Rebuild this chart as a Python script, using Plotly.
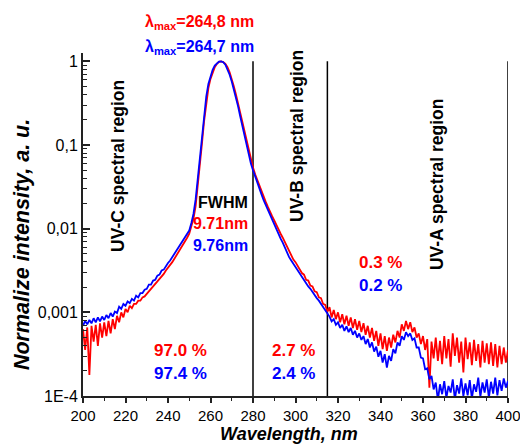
import plotly.graph_objects as go

# ---------------- data ----------------
wavelength = list(range(200, 401))  # nm, 1 nm steps

red_intensity = [
    6.3e-4, 3.55e-4, 6.6e-4, 1.78e-4, 6.9e-4, 4.47e-4, 7.1e-4, 3.98e-4, 7.4e-4, 5.0e-4,   # 200-209
    7.6e-4, 5.2e-4, 7.9e-4, 5.6e-4, 8.3e-4, 6.3e-4, 9.1e-4, 7.6e-4, 1.00e-3, 8.7e-4,     # 210-219
    1.10e-3, 1.00e-3, 1.20e-3, 1.12e-3, 1.26e-3, 1.26e-3, 1.38e-3, 1.38e-3, 1.51e-3, 1.55e-3,  # 220-229
    1.66e-3, 1.78e-3, 1.86e-3, 2.04e-3, 2.14e-3, 2.34e-3, 2.45e-3, 2.69e-3, 2.88e-3, 3.16e-3,  # 230-239
    3.39e-3, 3.63e-3, 3.98e-3, 4.37e-3, 4.79e-3, 5.2e-3, 5.8e-3, 6.3e-3, 7.1e-3, 7.8e-3,   # 240-249
    8.7e-3, 1.05e-2, 1.32e-2, 1.86e-2, 3.16e-2, 5.6e-2, 0.105, 0.195, 0.324, 0.479,        # 250-259
    0.617, 0.741, 0.851, 0.933, 0.986, 1.0, 0.982, 0.933, 0.851, 0.741,                    # 260-269
    0.617, 0.501, 0.398, 0.309, 0.240, 0.182, 0.138, 0.107, 8.3e-2, 6.6e-2,                # 270-279
    5.4e-2, 4.47e-2, 3.80e-2, 3.24e-2, 2.75e-2, 2.40e-2, 2.09e-2, 1.82e-2, 1.58e-2, 1.41e-2,  # 280-289
    1.26e-2, 1.10e-2, 9.8e-3, 8.7e-3, 7.8e-3, 6.9e-3, 6.0e-3, 5.2e-3, 4.79e-3, 4.27e-3,   # 290-299
    3.98e-3, 3.55e-3, 3.31e-3, 2.95e-3, 2.82e-3, 2.45e-3, 2.40e-3, 2.09e-3, 2.04e-3, 1.78e-3,  # 300-309
    1.74e-3, 1.51e-3, 1.48e-3, 1.26e-3, 1.23e-3, 1.02e-3, 1.15e-3, 8.7e-4, 1.07e-3, 8.3e-4,   # 310-319
    1.00e-3, 7.6e-4, 9.5e-4, 7.2e-4, 9.1e-4, 6.9e-4, 8.7e-4, 6.5e-4, 8.3e-4, 6.2e-4,     # 320-329
    7.9e-4, 5.8e-4, 7.4e-4, 5.4e-4, 6.9e-4, 5.0e-4, 6.5e-4, 4.57e-4, 6.0e-4, 3.98e-4,    # 330-339
    5.6e-4, 3.63e-4, 5.2e-4, 3.47e-4, 5.0e-4, 3.80e-4, 5.4e-4, 4.37e-4, 6.0e-4, 5.0e-4,   # 340-349
    7.2e-4, 6.0e-4, 7.9e-4, 6.3e-4, 7.6e-4, 5.8e-4, 6.6e-4, 5.0e-4, 5.6e-4, 4.17e-4,     # 350-359
    5.2e-4, 3.55e-4, 4.79e-4, 1.26e-4, 4.47e-4, 2.82e-4, 5.0e-4, 2.63e-4, 4.57e-4, 2.40e-4,  # 360-369
    5.2e-4, 2.82e-4, 4.79e-4, 2.24e-4, 5.6e-4, 3.02e-4, 5.0e-4, 2.51e-4, 4.47e-4, 1.91e-4,  # 370-379
    5.0e-4, 2.75e-4, 4.37e-4, 2.34e-4, 4.68e-4, 2.63e-4, 4.17e-4, 2.19e-4, 4.57e-4, 2.51e-4,  # 380-389
    4.27e-4, 2.40e-4, 4.37e-4, 2.29e-4, 4.17e-4, 2.19e-4, 3.98e-4, 2.40e-4, 3.80e-4, 2.51e-4,  # 390-399
    3.55e-4,                                                                                # 400
]

blue_intensity = [
    6.9e-4, 7.9e-4, 7.2e-4, 8.1e-4, 7.4e-4, 8.5e-4, 7.6e-4, 8.7e-4, 7.8e-4, 8.9e-4,      # 200-209
    8.1e-4, 9.3e-4, 8.5e-4, 9.8e-4, 8.9e-4, 1.02e-3, 9.8e-4, 1.17e-3, 1.10e-3, 1.26e-3,   # 210-219
    1.20e-3, 1.35e-3, 1.29e-3, 1.45e-3, 1.38e-3, 1.58e-3, 1.51e-3, 1.70e-3, 1.70e-3, 1.86e-3,  # 220-229
    1.91e-3, 2.14e-3, 2.14e-3, 2.40e-3, 2.45e-3, 2.75e-3, 2.82e-3, 3.16e-3, 3.24e-3, 3.63e-3,  # 230-239
    3.89e-3, 4.17e-3, 4.57e-3, 5.0e-3, 5.4e-3, 5.9e-3, 6.5e-3, 7.1e-3, 7.8e-3, 8.5e-3,    # 240-249
    9.5e-3, 1.17e-2, 1.51e-2, 2.24e-2, 3.98e-2, 7.1e-2, 0.132, 0.240, 0.380, 0.537,        # 250-259
    0.676, 0.794, 0.891, 0.955, 0.993, 1.0, 0.977, 0.912, 0.813, 0.692,                    # 260-269
    0.575, 0.468, 0.372, 0.288, 0.219, 0.166, 0.126, 9.8e-2, 7.6e-2, 6.0e-2,               # 270-279
    5.0e-2, 4.17e-2, 3.55e-2, 3.02e-2, 2.57e-2, 2.19e-2, 1.91e-2, 1.66e-2, 1.45e-2, 1.26e-2,  # 280-289
    1.12e-2, 9.8e-3, 8.7e-3, 7.6e-3, 6.8e-3, 5.9e-3, 5.2e-3, 4.57e-3, 4.17e-3, 3.80e-3,   # 290-299
    3.47e-3, 3.16e-3, 2.88e-3, 2.63e-3, 2.40e-3, 2.24e-3, 2.04e-3, 1.91e-3, 1.74e-3, 1.62e-3,  # 300-309
    1.48e-3, 1.38e-3, 1.26e-3, 1.17e-3, 1.07e-3, 9.5e-4, 8.9e-4, 7.8e-4, 8.3e-4, 7.1e-4,   # 310-319
    7.6e-4, 6.5e-4, 7.1e-4, 6.0e-4, 6.8e-4, 5.8e-4, 6.5e-4, 5.4e-4, 6.0e-4, 5.0e-4,      # 320-329
    5.6e-4, 4.68e-4, 5.2e-4, 4.17e-4, 4.79e-4, 3.80e-4, 4.37e-4, 3.39e-4, 3.89e-4, 2.95e-4,  # 330-339
    3.47e-4, 2.51e-4, 3.16e-4, 2.19e-4, 3.02e-4, 2.63e-4, 3.63e-4, 3.24e-4, 4.37e-4, 3.98e-4,  # 340-349
    5.2e-4, 4.68e-4, 5.8e-4, 5.2e-4, 5.6e-4, 4.68e-4, 4.90e-4, 3.80e-4, 3.80e-4, 2.88e-4,  # 350-359
    2.82e-4, 2.09e-4, 2.14e-4, 1.58e-4, 1.74e-4, 1.20e-4, 1.45e-4, 8.9e-5, 1.38e-4, 1.05e-4,  # 360-369
    1.51e-4, 9.5e-5, 1.32e-4, 1.10e-4, 1.58e-4, 9.1e-5, 1.35e-4, 1.07e-4, 1.62e-4, 1.00e-4,  # 370-379
    1.41e-4, 1.02e-4, 1.55e-4, 9.3e-5, 1.38e-4, 1.12e-4, 1.66e-4, 9.8e-5, 1.45e-4, 1.10e-4,  # 380-389
    1.58e-4, 9.5e-5, 1.48e-4, 1.07e-4, 1.66e-4, 1.02e-4, 1.55e-4, 1.15e-4, 1.62e-4, 1.26e-4,  # 390-399
    1.51e-4,                                                                                # 400
]

region_bounds = [280, 315, 400]
region_span = [1e-4, 1]

y_tick_vals = [1e-4, 1e-3, 1e-2, 1e-1, 1]
y_tick_text = ["1E-4", "0,001", "0,01", "0,1", "1"]
y_minor_vals = [m * 10.0 ** e for e in range(-4, 0) for m in range(2, 10)]

FONT = "Arial, Liberation Sans, sans-serif"
RED = "#ff0000"
BLUE = "#0000ff"

fig = go.Figure()

for xb in region_bounds:
    fig.add_trace(go.Scatter(x=[xb, xb], y=region_span, mode="lines",
                             line=dict(color="black", width=1.5),
                             showlegend=False, hoverinfo="skip"))

fig.add_trace(go.Scatter(x=wavelength, y=red_intensity, mode="lines",
                         line=dict(color=RED, width=1.8), showlegend=False))
fig.add_trace(go.Scatter(x=wavelength, y=blue_intensity, mode="lines",
                         line=dict(color=BLUE, width=1.8), showlegend=False))

fig.update_layout(
    width=520, height=445,
    margin=dict(l=83, r=12, t=53, b=49, autoexpand=False),
    paper_bgcolor="white", plot_bgcolor="white",
    font=dict(family=FONT, color="black"),
    showlegend=False,
)

fig.update_xaxes(
    range=[200, 400], dtick=20, tick0=200,
    showgrid=False, zeroline=False, automargin=False,
    showline=True, linecolor="#222", linewidth=2,
    ticks="outside", ticklen=5, tickwidth=1.5, tickcolor="#222",
    minor=dict(dtick=10, ticks="outside", ticklen=3, tickwidth=1.2, tickcolor="#222"),
    tickfont=dict(size=15, family=FONT, color="black"),
    ticklabeloverflow="allow",
)

fig.update_yaxes(
    type="log", range=[-4, 0.1], automargin=False,
    tickmode="array", tickvals=y_tick_vals, ticktext=y_tick_text,
    showgrid=False, zeroline=False,
    showline=True, linecolor="#222", linewidth=2,
    ticks="inside", ticklen=7, tickwidth=1.5, tickcolor="#222",
    minor=dict(tickmode="array", tickvals=y_minor_vals, ticks="inside", ticklen=4,
               tickwidth=1, tickcolor="#222"),
    tickfont=dict(size=16, family=FONT, color="black"),
)

def note(text, x, y, color="black", size=16, angle=0, xref="x", xanchor="center"):
    fig.add_annotation(text=text, x=x, y=y, xref=xref, yref="paper",
                       showarrow=False, textangle=angle, xanchor=xanchor, yanchor="middle",
                       font=dict(family=FONT, size=size, color=color))

# axis titles
note("<b><i>Wavelength, nm</i></b>", 0.485, -0.11, size=18, xref="paper")
note("<b><i>Normalize intensity, a. u.</i></b>", -0.1435, 0.44, size=21.5, angle=-90, xref="paper")

# peak labels
note("<b>λ<sub>max</sub>=264,8 nm</b>", 255.0, 1.090, color=RED, size=16)
note("<b>λ<sub>max</sub>=264,7 nm</b>", 255.0, 1.017, color=BLUE, size=16)

# region labels
note("<b>UV-C spectral region</b>", 216.5, 0.671, size=17.5, angle=-90)
note("<b>UV-B spectral region</b>", 300.7, 0.758, size=17.5, angle=-90)
note("<b>UV-A spectral region</b>", 366.6, 0.615, size=17.5, angle=-90)

# FWHM
note("<b>FWHM</b>", 278.6, 0.563, size=16, xanchor="right")
note("<b>9.71nm</b>", 278.6, 0.504, color=RED, size=16, xanchor="right")
note("<b>9.76nm</b>", 278.6, 0.440, color=BLUE, size=16, xanchor="right")

# percentages
note("<b>97.0 %</b>", 246.1, 0.134, color=RED, size=17)
note("<b>97.4 %</b>", 246.1, 0.067, color=BLUE, size=17)
note("<b>2.7 %</b>", 299.0, 0.134, color=RED, size=17)
note("<b>2.4 %</b>", 299.0, 0.067, color=BLUE, size=17)
note("<b>0.3 %</b>", 339.8, 0.388, color=RED, size=17)
note("<b>0.2 %</b>", 339.8, 0.321, color=BLUE, size=17)

fig.write_html("out.html", config={"displayModeBar": False},
               post_script="document.body.style.margin='0';")
